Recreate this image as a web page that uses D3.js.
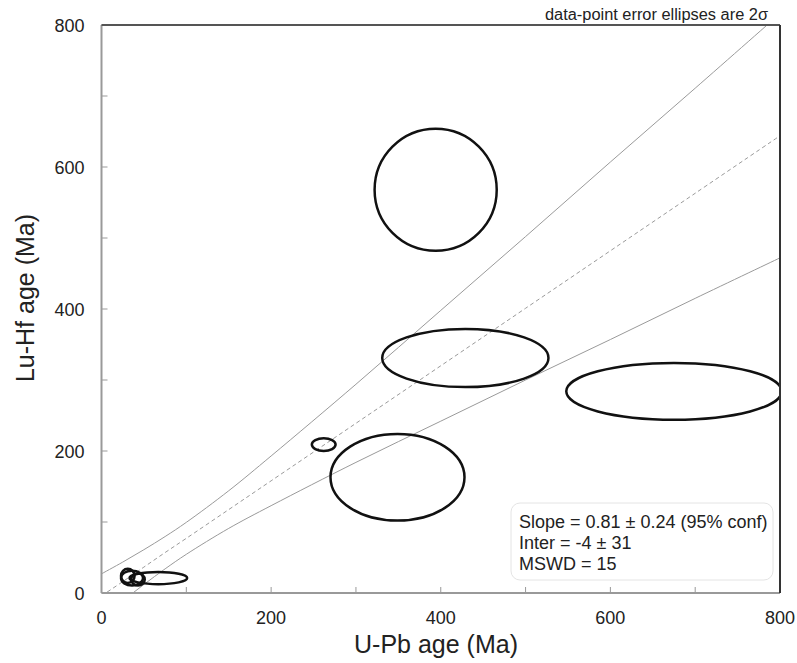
<!DOCTYPE html>
<html>
<head>
<meta charset="utf-8">
<script src="https://cdn.jsdelivr.net/npm/d3@7"></script>
<style>
  body { margin: 0; background: #fff; }
  text { font-family: "Liberation Sans", Arial, sans-serif; fill: #222; }
</style>
</head>
<body>
<div id="content"></div>
<script>
// Data: error ellipses (U-Pb age, Lu-Hf age, 2-sigma half widths), in Ma.
var upbAge   = [394, 429, 349, 262, 675, 67, 31, 36, 43];
var luhfAge  = [568, 331, 163, 209, 284, 21, 24, 21, 19];
var upbErr   = [72, 98, 79, 14, 127, 34, 8, 13, 8];
var luhfErr  = [86, 41, 61, 9, 40, 8.5, 10, 10.5, 8.5];

// Regression line and its 95% confidence envelope.
var fitX   = [0, 25, 50, 75, 100, 150, 200, 300, 400, 500, 600, 700, 800];
var fitMid = [-4, 16, 36.5, 57, 77, 117.5, 158, 239, 320, 401, 482, 563, 644];
var fitUp  = [27, 43.5, 61, 79.5, 99.5, 144, 193, 294, 398, 502, 607, 711, 816];
var fitLo  = [-35, -11, 12, 34, 54.5, 91, 123, 184, 242, 300, 357, 415, 472];

var xTicks = [0, 200, 400, 600, 800];
var yTicks = [0, 200, 400, 600, 800];
var minorTicks = d3.range(0, 801, 100);

var statLines = ["Slope = 0.81 \u00b1 0.24 (95% conf)", "Inter = -4 \u00b1 31", "MSWD = 15"];

// SVG dimensions.
var W = 797, H = 663;
var margin = {left : 101.5, top : 25, right : 17, bottom : 70};
var width = W - margin.left - margin.right;
var height = H - margin.top - margin.bottom;

var svg = d3.select('#content').append('svg')
    .attr('width', W).attr('height', H);

var g = svg.append('g')
    .attr('transform', 'translate(' + margin.left + ',' + margin.top + ')');

var x = d3.scaleLinear().domain([0, 800]).range([0, width]);
var y = d3.scaleLinear().domain([0, 800]).range([height, 0]);

svg.append('defs').append('clipPath').attr('id', 'plotclip')
  .append('rect').attr('width', width).attr('height', height);

var plot = g.append('g').attr('clip-path', 'url(#plotclip)');

// Confidence band and fit line.
var band = fitX.map(function(d, i) { return {x: d, mid: fitMid[i], up: fitUp[i], lo: fitLo[i]}; });
function curve(key) {
  return d3.line().curve(d3.curveCatmullRom)
      .x(function(d) { return x(d.x); })
      .y(function(d) { return y(d[key]); });
}
plot.append('path').datum(band).attr('fill', 'none').attr('stroke', '#9a9a9a')
    .attr('stroke-width', 1).attr('d', curve('up'));
plot.append('path').datum(band).attr('fill', 'none').attr('stroke', '#9a9a9a')
    .attr('stroke-width', 1).attr('d', curve('lo'));
plot.append('path').datum(band).attr('fill', 'none').attr('stroke', '#9a9a9a')
    .attr('stroke-width', 1).attr('stroke-dasharray', '4,3').attr('d', curve('mid'));

// Error ellipses.
plot.selectAll('ellipse.pt').data(upbAge).enter().append('ellipse')
    .attr('class', 'pt')
    .attr('cx', function(d) { return x(d); })
    .attr('cy', function(d, i) { return y(luhfAge[i]); })
    .attr('rx', function(d, i) { return x(d + upbErr[i]) - x(d); })
    .attr('ry', function(d, i) { return y(luhfAge[i] - luhfErr[i]) - y(luhfAge[i]); })
    .attr('fill', 'none').attr('stroke', '#111').attr('stroke-width', 2.5);

// Axes: minor inward ticks.
var tickLen = 6;
g.selectAll('line.xt').data(minorTicks).enter().append('line')
    .attr('x1', function(d) { return x(d); }).attr('x2', function(d) { return x(d); })
    .attr('y1', height).attr('y2', height - tickLen)
    .attr('stroke', '#999').attr('stroke-width', 1);
g.selectAll('line.yt').data(minorTicks).enter().append('line')
    .attr('y1', function(d) { return y(d); }).attr('y2', function(d) { return y(d); })
    .attr('x1', 0).attr('x2', tickLen)
    .attr('stroke', '#999').attr('stroke-width', 1);

// Frame: left/bottom light, top/right dark.
g.append('line').attr('x1', 0).attr('x2', 0).attr('y1', 0).attr('y2', height)
    .attr('stroke', '#999').attr('stroke-width', 2);
g.append('line').attr('x1', 0).attr('x2', width).attr('y1', height).attr('y2', height)
    .attr('stroke', '#999').attr('stroke-width', 2);
g.append('line').attr('x1', 0).attr('x2', width).attr('y1', 0).attr('y2', 0)
    .attr('stroke', '#555').attr('stroke-width', 2);
g.append('line').attr('x1', width).attr('x2', width).attr('y1', 0).attr('y2', height)
    .attr('stroke', '#333').attr('stroke-width', 2);

// Tick labels.
g.selectAll('text.xl').data(xTicks).enter().append('text')
    .attr('x', function(d) { return x(d); }).attr('y', height + 31)
    .attr('text-anchor', 'middle').style('font-size', '18px')
    .text(function(d) { return d; });
g.selectAll('text.yl').data(yTicks).enter().append('text')
    .attr('x', -17).attr('y', function(d) { return y(d) + 6.5; })
    .attr('text-anchor', 'end').style('font-size', '18px')
    .text(function(d) { return d; });

// Axis titles.
svg.append('text').attr('x', 436).attr('y', 653)
    .attr('text-anchor', 'middle').style('font-size', '25px')
    .text('U-Pb age (Ma)');
svg.append('text')
    .attr('transform', 'translate(34,298) rotate(-90)')
    .attr('text-anchor', 'middle').style('font-size', '25px')
    .text('Lu-Hf age (Ma)');

// Note top right.
svg.append('text').attr('x', 768).attr('y', 20)
    .attr('text-anchor', 'end').style('font-size', '16px')
    .attr('textLength', 223).attr('lengthAdjust', 'spacingAndGlyphs')
    .text('data-point error ellipses are 2\u03c3');

// Stats box.
svg.append('rect').attr('x', 511).attr('y', 503).attr('width', 262).attr('height', 77)
    .attr('rx', 9).attr('fill', '#fff').attr('stroke', '#e4e4e4').attr('stroke-width', 1);
svg.selectAll('text.st').data(statLines).enter().append('text')
    .attr('x', 519).attr('y', function(d, i) { return 528 + i * 21; })
    .style('font-size', '18px')
    .text(function(d) { return d; });
</script>
</body>
</html>
